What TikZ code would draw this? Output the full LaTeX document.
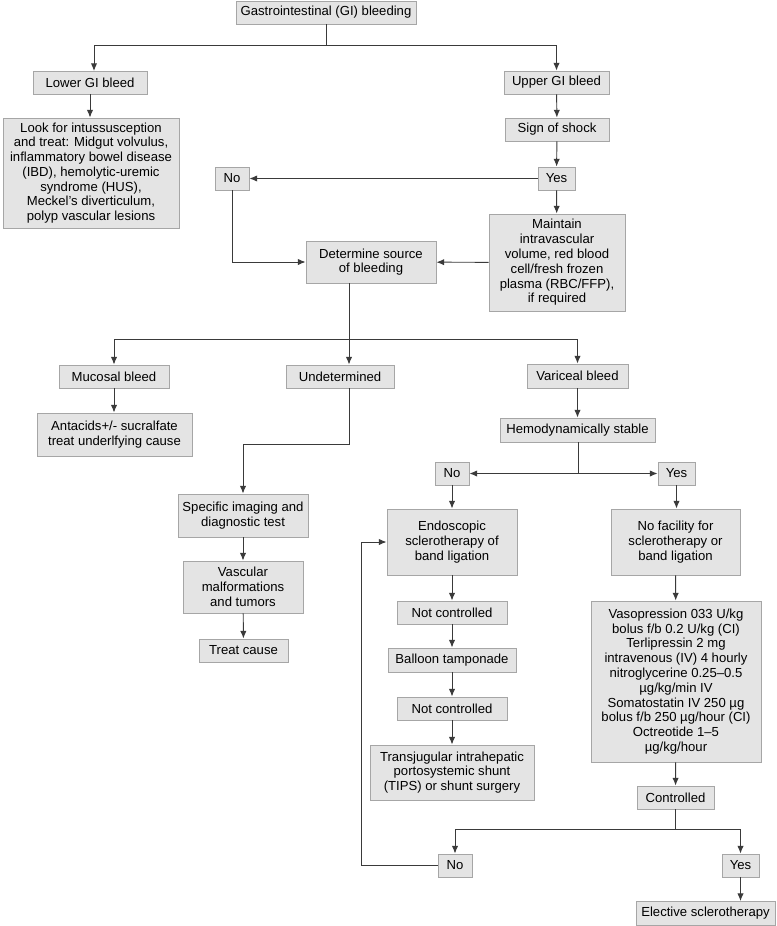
\documentclass[tikz,border=0pt]{standalone}
\usepackage{fontspec}
\setmainfont{Liberation Sans}
\usetikzlibrary{arrows.meta}

\definecolor{boxfill}{HTML}{E4E4E4}
\definecolor{boxline}{HTML}{A6A6A6}
\definecolor{arrline}{HTML}{3A3A3A}

\begin{document}
\begin{tikzpicture}[x=0.03cm,y=-0.03cm,
  box/.style={draw=boxline,fill=boxfill,line width=0.8pt,inner sep=1pt,align=center,
    font=\fontsize{11.2}{12.6}\selectfont},
  boxsize/.style 2 args={minimum width=#1*0.03cm,minimum height=#2*0.03cm},
  >={Latex[length=2.3mm,width=1.9mm]},
  every path/.append style={line width=0.8pt}]
%\draw[help lines] (0,0) grid[step=50] (776,926);
\useasboundingbox (0,0) rectangle (776,926);

\node[box,boxsize={180}{23}] (gi) at (326,12.5) {Gastrointestinal (GI) bleeding};
\node[box,boxsize={114}{23}] (lower) at (90,82.5) {Lower GI bleed};
\node[box,boxsize={176}{110}] (look) at (91,173) {Look for intussusception\\and treat: Midgut volvulus,\\inflammatory bowel disease\\(IBD), hemolytic-uremic\\syndrome (HUS),\\Meckel's diverticulum,\\polyp vascular lesions};
\node[box,boxsize={105}{23}] (upper) at (556.5,82.5) {Upper GI bleed};
\node[box,boxsize={104}{23}] (shock) at (557,129.5) {Sign of shock};
\node[box,boxsize={37}{23}] (yesA) at (556.5,178.5) {Yes};
\node[box,boxsize={34}{23}] (noA) at (232,178.5) {No};
\node[box,boxsize={136}{97}] (maintain) at (557,262.5) {Maintain\\intravascular\\volume, red blood\\cell/fresh frozen\\plasma (RBC/FFP),\\if required};
\node[box,boxsize={130}{42}] (source) at (371,262) {Determine source\\of bleeding};

\node[box,boxsize={110}{23}] (mucosal) at (114,376.5) {Mucosal bleed};
\node[box,boxsize={108}{23}] (undet) at (340,376.5) {Undetermined};
\node[box,boxsize={101}{24}] (variceal) at (577.5,376) {Variceal bleed};
\node[box,boxsize={155}{43}] (antacid) at (114.5,434.5) {Antacids+/- sucralfate\\treat underlfying cause};
\node[box,boxsize={155}{24}] (hemo) at (577.5,430) {Hemodynamically stable};

\node[box,boxsize={130}{43}] (imaging) at (243,515.5) {Specific imaging and\\diagnostic test};
\node[box,boxsize={120}{52}] (vascular) at (243,587) {Vascular\\malformations\\and tumors};
\node[box,boxsize={89}{23}] (treat) at (243.5,650.5) {Treat cause};

\node[box,boxsize={34}{23}] (noB) at (452,473.5) {No};
\node[box,boxsize={37}{23}] (yesB) at (676.5,473.5) {Yes};
\node[box,boxsize={130}{66}] (endo) at (452,542) {Endoscopic\\sclerotherapy of\\band ligation};
\node[box,boxsize={129}{66}] (nofac) at (675.5,542) {No facility for\\sclerotherapy or\\band ligation};
\node[box,boxsize={110}{23}] (notA) at (452,612.5) {Not controlled};
\node[box,boxsize={128}{24}] (balloon) at (452,660) {Balloon tamponade};
\node[box,boxsize={110}{23}] (notB) at (452,708.5) {Not controlled};
\node[box,boxsize={164}{55}] (tips) at (452,772.5) {Transjugular intrahepatic\\portosystemic shunt\\(TIPS) or shunt surgery};
\node[box,boxsize={170}{161}] (vaso) at (676,681.5) {Vasopression 033 U/kg\\bolus f/b 0.2 U/kg (CI)\\Terlipressin 2 mg\\intravenous (IV) 4 hourly\\nitroglycerine 0.25–0.5\\µg/kg/min IV\\Somatostatin IV 250 µg\\bolus f/b 250 µg/hour (CI)\\Octreotide 1–5\\µg/kg/hour};
\node[box,boxsize={77}{23}] (ctrl) at (675.5,797.5) {Controlled};
\node[box,boxsize={34}{23}] (noC) at (455,865.5) {No};
\node[box,boxsize={37}{23}] (yesC) at (740.5,865.5) {Yes};
\node[box,boxsize={139}{24}] (elective) at (705.5,913.5) {Elective sclerotherapy};

\coordinate (split) at (349,339);
\coordinate (hsplit) at (578,473.5);

\begin{scope}[draw=arrline]
\draw[->] (gi.south) -- ++(0,21) -| (94,71);
\draw[->] (gi.south) -- ++(0,21) -| (upper.north);
\draw[->] (lower.south) -- (lower.south |- look.north);
\draw[->] (upper) -- (shock);
\draw[->] (shock) -- (yesA);
\draw[->] (yesA) -- (maintain);
\draw[->] (yesA) -- (noA);
\draw[->] (maintain) -- (source);
\draw[->] (noA) |- (source);

\draw (source.south -| split) -- (split);
\draw[->] (split) -| (mucosal.north);
\draw[->] (split) -- (split |- undet.north);
\draw[->] (split) -| (variceal.north);
\draw[->] (mucosal) -- (mucosal |- antacid.north);
\draw[->] (undet.south -| split) -- ++(0,56) -| (imaging.north);
\draw[->] (imaging) -- (vascular);
\draw[->] (vascular) -- (treat);

\draw[->] (variceal) -- (hemo);
\draw (hemo.south -| hsplit) -- (hsplit);
\draw[->] (hsplit) -- (noB);
\draw[->] (hsplit) -- (yesB);
\draw[->] (noB) -- (endo);
\draw[->] (yesB) -- (yesB |- nofac.north);
\draw[->] (endo) -- (notA);
\draw[->] (notA) -- (balloon);
\draw[->] (balloon) -- (notB);
\draw[->] (notB) -- (tips);
\draw[->] (nofac) -- (vaso);
\draw[->] (vaso) -- (ctrl);
\draw[->] (ctrl.south) -- ++(0,20) -| (noC.north);
\draw[->] (ctrl.south) -- ++(0,20) -| (yesC.north);
\draw[->] (yesC.south) -- (yesC.south |- elective.north);
\draw[->] (noC.west) -- ++(-76,0) |- (endo.west);
\end{scope}
\end{tikzpicture}
\end{document}
